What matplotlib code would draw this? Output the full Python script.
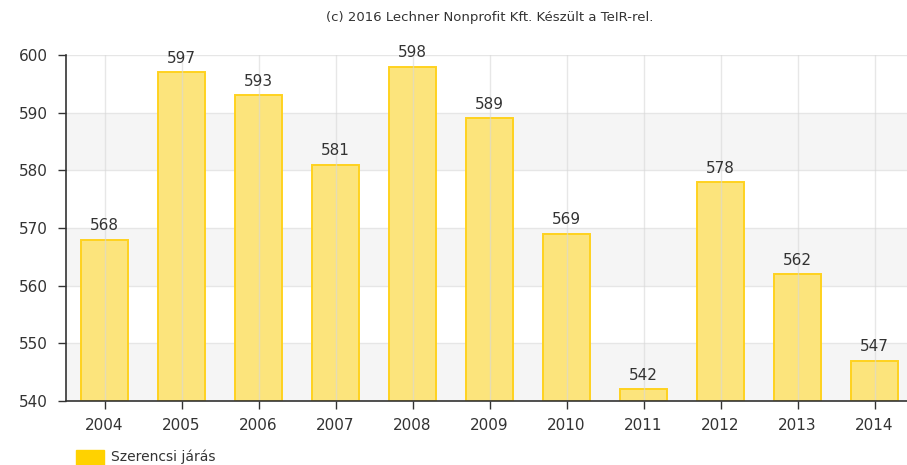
import matplotlib.pyplot as plt
from matplotlib.patches import Rectangle

years = ['2004', '2005', '2006', '2007', '2008', '2009', '2010', '2011', '2012', '2013', '2014']
values = [568, 597, 593, 581, 598, 589, 569, 542, 578, 562, 547]
y_ticks = [540, 550, 560, 570, 580, 590, 600]
series_name = 'Szerencsi járás'
credit = '(c) 2016 Lechner Nonprofit Kft. Készült a TeIR-rel.'

txt = '#333333'
fig = plt.figure(figsize=(9.07, 4.65), dpi=100)
ax = fig.add_axes([66 / 907, 1 - 401 / 465, 847 / 907, 346 / 465])

x = list(range(len(years)))
ax.set_xlim(-0.5, len(years) - 0.5)
ax.set_ylim(540, 600)

# alternating bands
for lo in (540, 560, 580):
    ax.axhspan(lo, lo + 10, color='#f5f5f5', zorder=0, lw=0)
for t in y_ticks:
    ax.axhline(t, color='#e6e6e6', lw=1, zorder=0.5)

ax.bar(x, [v - 540 for v in values], bottom=540, width=0.61,
       color='#fce47c', edgecolor='#ffd21f', lw=1.4, zorder=1)
for xi in x:
    ax.axvline(xi, color='#d8d8d8', lw=1, alpha=0.6, zorder=2)

for xi, v in zip(x, values):
    ax.text(xi, v + 1.1, str(v), ha='center', va='bottom', fontsize=11, color=txt)

ax.set_xticks(x)
ax.set_xticklabels(years)
ax.set_yticks(y_ticks)
ax.tick_params(axis='both', colors='#333333', labelcolor=txt, labelsize=11, length=6, width=1)
ax.tick_params(axis='x', pad=6)
ax.tick_params(axis='y', pad=7)
for s in ('top', 'right'):
    ax.spines[s].set_visible(False)
for s in ('left', 'bottom'):
    ax.spines[s].set_color('#333333')
    ax.spines[s].set_linewidth(1.2)

fig.text(490 / 907, 1 - 18 / 465, credit, ha='center', va='center', fontsize=9.5, color=txt)

fig.patches.append(Rectangle((76 / 907, 1 - 465 / 465), 28 / 907, 15 / 465,
                             transform=fig.transFigure, color='#ffd200'))
fig.text(111 / 907, 1 - 457 / 465, series_name, ha='left', va='center', fontsize=10, color=txt)

fig.savefig('out.png', dpi=100)
